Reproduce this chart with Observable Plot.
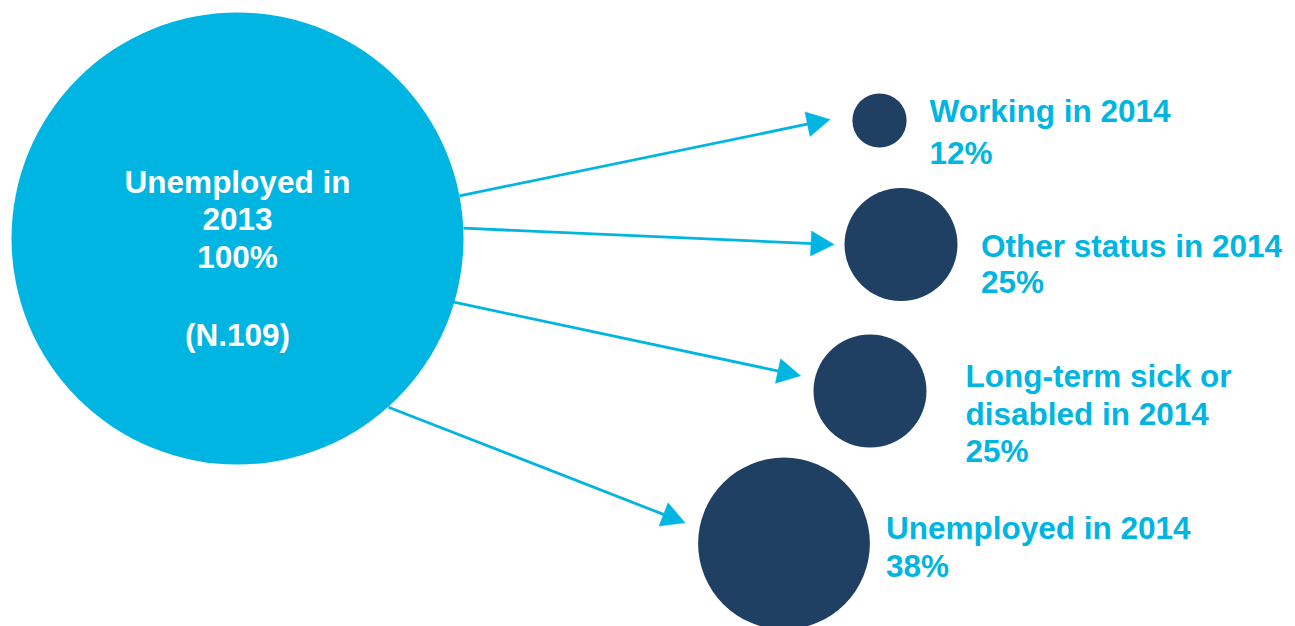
<!DOCTYPE html>
<html>
<head>
<meta charset="utf-8">
<script src="https://cdn.jsdelivr.net/npm/d3@7"></script>
<script src="https://cdn.jsdelivr.net/npm/@observablehq/plot@0.6"></script>
<style>
  html, body { margin: 0; padding: 0; background: #ffffff; }
  svg { display: block; }
</style>
</head>
<body>
<div id="chart"></div>
<script>
// ---- data ----
const sourceCategory = "Unemployed in 2013";
const sourceShare = 100;
const sourceN = 109;
const categories = ["Working in 2014", "Other status in 2014", "Long-term sick or disabled in 2014", "Unemployed in 2014"];
const shares = [12, 25, 25, 38];

// ---- layout (pixel positions of the diagram) ----
const sourcePos = [237, 238];
const nodeX = [879, 900.5, 869.5, 783.5];
const nodeY = [120, 244, 390.5, 543];
const labelX = [929, 980.4, 965, 885.5];
const labelBaseline = [122, 256, 386.7, 538.3]; // first-line baselines
const labelGap = [42, 36.5, 37.5, 38.4];         // line spacing in px
const wrapAt = {"Long-term sick or disabled in 2014": ["Long-term sick or", "disabled in 2014"]};
const sourceBaseline = 192, sourceGap = 37.7, sourceNBaseline = 345;
const arrowStartX = [459, 463, 453.5, 388];
const arrowStartY = [195.3, 227.7, 301.7, 406.7];
const arrowTipX = [829.5, 833.5, 800, 684.5];
const arrowTipY = [119, 244, 375.3, 522.3];

const CYAN = "#00B5E2";
const NAVY = "#1F3F63";
const FONT = 31.5;
const headLen = 23, headHalf = 12.5;

const targets = categories.map((c, i) => ({
  category: c,
  share: shares[i],
  x: nodeX[i], y: nodeY[i],
  label: (wrapAt[c] || [c]).join("\n") + "\n" + shares[i] + "%",
  lx: labelX[i],
  // Plot places line k of a top-anchored multi-line text at (0.71 + k) * lineHeight em
  ly: labelBaseline[i] - 0.71 * labelGap[i],
  lh: labelGap[i] / FONT
}));
const source = [{category: sourceCategory, share: sourceShare, x: sourcePos[0], y: sourcePos[1]}];

const arrows = categories.map((c, i) => {
  const dx = arrowTipX[i] - arrowStartX[i], dy = arrowTipY[i] - arrowStartY[i];
  const len = Math.hypot(dx, dy), ux = dx / len, uy = dy / len;
  return {
    id: c,
    x1: arrowStartX[i], y1: arrowStartY[i],
    x2: arrowTipX[i] - (headLen - 2) * ux, y2: arrowTipY[i] - (headLen - 2) * uy,
    tipX: arrowTipX[i], tipY: arrowTipY[i], ux, uy
  };
});
const heads = arrows.flatMap(a => {
  const bx = a.tipX - headLen * a.ux, by = a.tipY - headLen * a.uy;
  const nx = -a.uy, ny = a.ux;
  return [
    {id: a.id, x: a.tipX, y: a.tipY},
    {id: a.id, x: bx + headHalf * nx, y: by + headHalf * ny},
    {id: a.id, x: bx - headHalf * nx, y: by - headHalf * ny},
    {id: a.id, x: a.tipX, y: a.tipY}
  ];
});

const W = 1295, H = 626;
const chart = Plot.plot({
  width: W, height: H,
  margin: 0,
  x: {domain: [0, W], range: [0, W], axis: null},
  y: {domain: [0, H], range: [0, H], axis: null},
  r: {type: "linear", domain: [0, 100], range: [0, 226]},
  style: {fontFamily: "'Liberation Sans', Arial, Helvetica, sans-serif", background: "#ffffff"},
  marks: [
    Plot.link(arrows, {x1: "x1", y1: "y1", x2: "x2", y2: "y2", stroke: CYAN, strokeWidth: 2.8}),
    Plot.line(heads, {x: "x", y: "y", z: "id", fill: CYAN, stroke: CYAN, strokeWidth: 0.5}),
    Plot.dot(source, {x: "x", y: "y", r: "share", fill: CYAN, stroke: null}),
    Plot.dot(targets, {x: "x", y: "y", r: "share", fill: NAVY, stroke: null}),
    Plot.text(source, {
      x: "x", y: () => sourceBaseline - 0.71 * sourceGap,
      text: d => "Unemployed in\n2013\n" + d.share + "%",
      fill: "white", fontSize: FONT, fontWeight: "bold", lineHeight: sourceGap / FONT,
      textAnchor: "middle", lineAnchor: "top"
    }),
    Plot.text(source, {
      x: "x", y: () => sourceNBaseline,
      text: () => "(N." + sourceN + ")",
      fill: "white", fontSize: FONT, fontWeight: "bold",
      textAnchor: "middle", lineAnchor: "bottom"
    }),
    ...targets.map(t => Plot.text([t], {
      x: "lx", y: "ly", text: "label",
      fill: CYAN, fontSize: FONT, fontWeight: "bold", lineHeight: t.lh,
      textAnchor: "start", lineAnchor: "top"
    }))
  ]
});
document.getElementById("chart").appendChild(chart);
</script>
</body>
</html>
